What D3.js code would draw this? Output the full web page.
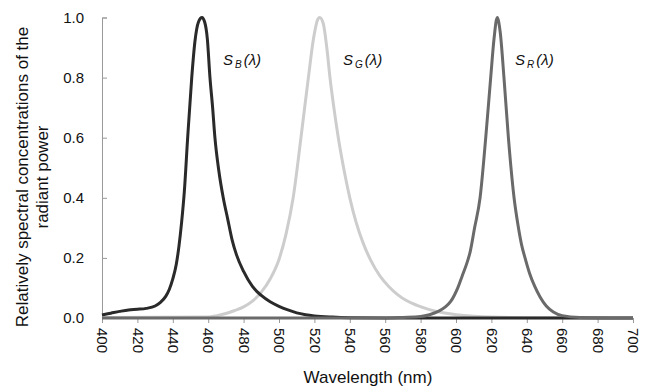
<!DOCTYPE html>
<html>
<head>
<meta charset="utf-8">
<script src="https://cdn.jsdelivr.net/npm/d3@7"></script>
<style>
  body { margin: 0; background: #fff; }
  svg { display: block; font-family: "Liberation Sans", Arial, sans-serif; }
</style>
</head>
<body>
<svg id="chart" width="651" height="387"></svg>
<script>
// wavelengths (nm) and relative values
const blueNm  = [400, 405, 410, 415, 420, 425, 430, 433, 436, 438, 440, 442, 443.5, 445, 446.5, 448.4, 450.7, 452.5, 454.5, 456.5, 458, 459.5, 461, 462.5, 463.8, 466, 468.5, 471, 473.5, 476, 480, 485, 490, 495, 500, 505, 510, 515, 520, 530, 540, 560, 700];
const blueVal = [0.010, 0.016, 0.022, 0.027, 0.029, 0.032, 0.040, 0.052, 0.072, 0.095, 0.130, 0.180, 0.240, 0.320, 0.420, 0.600, 0.800, 0.920, 0.985, 1.000, 0.985, 0.930, 0.800, 0.700, 0.600, 0.490, 0.400, 0.330, 0.260, 0.210, 0.155, 0.105, 0.075, 0.054, 0.039, 0.027, 0.017, 0.011, 0.007, 0.003, 0.001, 0, 0];

const greenNm  = [400, 460, 465, 470, 475, 480, 485, 490, 495, 500, 504, 508, 512.4, 516.6, 519.5, 522, 523, 525, 527, 528.8, 531, 533.5, 536.5, 540, 543.5, 547.5, 552, 557, 562, 567, 572, 578, 585, 592, 600, 610, 620, 640, 700];
const greenVal = [0.002, 0.003, 0.008, 0.015, 0.025, 0.037, 0.056, 0.086, 0.130, 0.195, 0.280, 0.400, 0.600, 0.800, 0.930, 0.995, 1.000, 0.980, 0.900, 0.800, 0.700, 0.600, 0.500, 0.400, 0.320, 0.250, 0.190, 0.140, 0.105, 0.078, 0.058, 0.042, 0.028, 0.018, 0.011, 0.006, 0.003, 0.001, 0];

const redNm  = [400, 560, 570, 580, 585, 590, 594, 597, 599, 601, 603.5, 606, 608, 610.5, 613.6, 616.8, 619.6, 621.5, 623.3, 625, 627.1, 629.6, 632.8, 635, 637, 639, 641.5, 644.5, 647.5, 651, 655, 660, 670, 700];
const redVal = [0, 0, 0.002, 0.005, 0.011, 0.022, 0.037, 0.055, 0.075, 0.100, 0.140, 0.180, 0.220, 0.300, 0.400, 0.600, 0.800, 0.930, 1.000, 0.950, 0.800, 0.600, 0.400, 0.310, 0.245, 0.200, 0.150, 0.105, 0.070, 0.040, 0.020, 0.008, 0.002, 0];

const xTicks = [400, 420, 440, 460, 480, 500, 520, 540, 560, 580, 600, 620, 640, 660, 680, 700];
const yTicks = [0, 0.2, 0.4, 0.6, 0.8, 1.0];

const seriesNames = ["G", "B", "R"];
const seriesColors = { B: "#2a2a2a", G: "#cdcdcd", R: "#6a6a6a" };

const svg = d3.select("#chart");

const x = d3.scaleLinear().domain([400, 700]).range([102, 633]);
const y = d3.scaleLinear().domain([0, 1]).range([318, 17.5]);

// axes
const yAxis = svg.append("g")
  .attr("transform", "translate(" + x(400) + ",0)")
  .call(d3.axisRight(y).tickValues(yTicks).tickSize(5).tickFormat(""));
yAxis.select(".domain").attr("stroke", "#999");
yAxis.selectAll(".tick line").attr("stroke", "#999");

// y tick labels on the left
svg.append("g").selectAll("text")
  .data(yTicks)
  .join("text")
  .attr("x", 84)
  .attr("y", d => y(d))
  .attr("dy", "0.35em")
  .attr("text-anchor", "end")
  .attr("font-size", 15)
  .attr("fill", "#111")
  .text(d3.format(".1f"));

const xAxis = svg.append("g")
  .attr("transform", "translate(0," + y(0) + ")")
  .call(d3.axisBottom(x).tickValues(xTicks).tickSize(5).tickSizeOuter(0));
xAxis.select(".domain").attr("stroke", "#999");
xAxis.selectAll(".tick line").attr("stroke", "#999");
xAxis.selectAll(".tick text")
  .attr("transform", "rotate(90)")
  .attr("x", 10)
  .attr("y", 0)
  .attr("dy", "0.35em")
  .attr("text-anchor", "start")
  .attr("font-size", 15)
  .attr("font-family", "Liberation Sans, Arial, sans-serif")
  .attr("fill", "#111");

// curves
const data = {
  B: blueNm.map((n, i) => [n, blueVal[i]]),
  G: greenNm.map((n, i) => [n, greenVal[i]]),
  R: redNm.map((n, i) => [n, redVal[i]])
};

const line = d3.line()
  .x(d => x(d[0]))
  .y(d => y(d[1]))
  .curve(d3.curveMonotoneX);

svg.append("g").selectAll("path")
  .data(seriesNames)
  .join("path")
  .attr("d", k => line(data[k]))
  .attr("fill", "none")
  .attr("stroke", k => seriesColors[k])
  .attr("stroke-width", 3)
  .attr("stroke-linejoin", "round");

// series labels S_X(λ)
const labels = [
  { k: "B", x: 223 },
  { k: "G", x: 343 },
  { k: "R", x: 515 }
];
labels.forEach(l => {
  const t = svg.append("text")
    .attr("x", l.x)
    .attr("y", 65)
    .attr("font-size", 15)
    .attr("font-style", "italic")
    .attr("fill", "#111");
  t.append("tspan").text("S");
  t.append("tspan").attr("dx", 2).attr("dy", 3).attr("font-size", 10).text(l.k);
  t.append("tspan").attr("dx", 2).attr("dy", -3).text("(λ)");
});

// axis titles
svg.append("text")
  .attr("x", 368)
  .attr("y", 383)
  .attr("text-anchor", "middle")
  .attr("font-size", 17)
  .attr("fill", "#111")
  .text("Wavelength (nm)");

const yt = svg.append("text")
  .attr("transform", "translate(28,177) rotate(-90)")
  .attr("text-anchor", "middle")
  .attr("font-size", 17)
  .attr("fill", "#111");
yt.append("tspan").attr("x", 0).attr("y", 0).text("Relatively spectral concentrations of the");
yt.append("tspan").attr("x", 0).attr("y", 20).text("radiant power");
</script>
</body>
</html>
